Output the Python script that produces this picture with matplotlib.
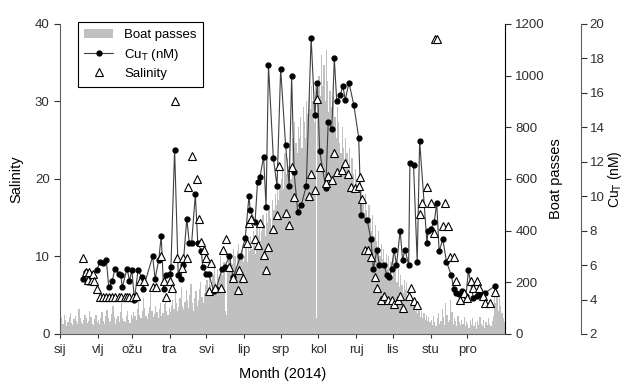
import numpy as np
import matplotlib
matplotlib.use("Agg")
import matplotlib.pyplot as plt
from matplotlib.patches import Patch
from matplotlib.lines import Line2D

plt.rcParams['font.family'] = ['Liberation Sans', 'DejaVu Sans']

# month tick positions (day of year) and Croatian month names
month_days = [0, 31, 59, 90, 120, 151, 181, 212, 243, 273, 304, 334]
month_labels = ['sij', 'vlj', 'ožu', 'tra', 'svi', 'lip', 'srp', 'kol', 'ruj', 'lis', 'stu', 'pro']

# daily boat passes, month by month
boat_jan = [45, 60, 38, 72, 55, 30, 48, 65, 80, 42, 35, 58, 70, 52, 40, 95, 62, 45, 38, 55, 75, 60, 42, 50, 88, 66, 40, 35, 58, 72, 48]
boat_feb = [55, 40, 62, 85, 50, 38, 70, 92, 60, 45, 52, 78, 110, 65, 40, 58, 70, 48, 85, 120, 62, 50, 45, 68, 90, 55, 42, 75]
boat_mar = [60, 85, 70, 55, 95, 130, 75, 62, 88, 140, 100, 70, 58, 80, 105, 160, 90, 65, 78, 110, 85, 60, 95, 120, 70, 80, 115, 150, 90, 75, 100]
boat_apr = [85, 110, 130, 95, 160, 120, 90, 105, 140, 180, 110, 95, 125, 170, 130, 100, 150, 195, 120, 90, 140, 165, 110, 130, 175, 200, 145, 120, 160, 190]
boat_may = [210, 170, 240, 190, 160, 230, 270, 200, 180, 250, 220, 300, 260, 230, 280, 90, 75, 240, 290, 310, 250, 270, 330, 300, 260, 320, 350, 290, 310, 340, 280]
boat_jun = [300, 340, 280, 360, 320, 380, 330, 400, 350, 310, 420, 380, 440, 360, 400, 460, 420, 380, 470, 430, 500, 450, 410, 520, 480, 540, 500, 560, 520, 580]
boat_jul = [600, 640, 560, 700, 620, 680, 650, 720, 600, 760, 690, 820, 740, 700, 800, 760, 840, 720, 880, 820, 760, 900, 850, 930, 870, 960, 900, 820, 980, 60, 940]
boat_aug = [1000, 920, 1080, 960, 1040, 900, 1100, 980, 860, 940, 880, 800, 920, 840, 760, 880, 820, 740, 700, 800, 720, 660, 760, 700, 640, 720, 600, 680, 620, 560, 640]
boat_sep = [600, 540, 620, 500, 560, 520, 470, 540, 480, 430, 500, 450, 400, 460, 380, 420, 360, 330, 400, 300, 350, 290, 330, 270, 310, 250, 300, 230, 280, 220]
boat_oct = [300, 240, 270, 200, 250, 180, 230, 190, 160, 210, 170, 200, 140, 170, 120, 150, 110, 140, 90, 120, 80, 100, 65, 90, 60, 80, 55, 75, 50, 65, 45]
boat_nov = [55, 35, 70, 45, 30, 60, 80, 40, 50, 95, 65, 35, 120, 75, 45, 55, 130, 85, 40, 60, 50, 30, 70, 45, 35, 55, 40, 65, 30, 50]
boat_dec = [40, 25, 55, 35, 60, 30, 45, 20, 50, 35, 65, 40, 30, 55, 25, 45, 35, 60, 40, 30, 50, 70, 150, 120, 170, 90, 140, 110, 80, 60, 45]
boat = (boat_jan + boat_feb + boat_mar + boat_apr + boat_may + boat_jun +
        boat_jul + boat_aug + boat_sep + boat_oct + boat_nov + boat_dec)
boat_day = np.arange(len(boat))

# total dissolved copper (nM)
cu_day = [19, 21, 23, 25, 30, 33, 35, 38, 40, 43, 45, 48, 50, 51, 55, 57, 59, 61, 64, 67, 68,
          76, 78, 81, 83, 85, 87, 90, 91, 94, 97, 99, 101, 104, 106, 108, 111, 113, 116, 117,
          120, 122, 126, 128, 133, 135, 139, 142, 148, 152, 155, 156, 160, 162, 164, 167, 169,
          171, 175, 178, 181, 185, 188, 190, 192, 195, 198, 202, 206, 209, 211, 213, 218, 220,
          223, 225, 227, 230, 232, 234, 237, 241, 245, 247, 252, 255, 257, 260, 262, 266, 268,
          270, 272, 274, 276, 279, 281, 283, 286, 287, 290, 293, 295, 301, 302, 304, 307, 309,
          311, 314, 317, 321, 323, 325, 327, 330, 333, 335, 339, 342, 344, 349, 357]
cu_val = [5.2, 5.6, 5.0, 5.5, 5.7, 6.2, 6.1, 6.3, 4.7, 5.1, 5.8, 5.5, 5.4, 4.7, 5.8, 5.1, 5.7, 4.0, 5.7, 5.3, 4.6,
          6.5, 5.2, 6.3, 7.7, 4.6, 5.4, 5.5, 5.9, 12.7, 5.4, 5.2, 6.0, 8.7, 7.3, 7.3, 10.1, 7.3, 6.8, 5.9,
          5.5, 5.5, 4.5, 4.6, 5.8, 5.9, 6.5, 5.3, 6.5, 7.6, 10.0, 9.2, 8.5, 10.8, 11.1, 12.3, 9.4,
          17.6, 12.2, 10.6, 17.4, 13.0, 10.6, 17.0, 11.4, 9.1, 9.5, 10.6, 19.2, 14.7, 16.6, 12.6, 10.5, 14.3,
          13.9, 18.0, 15.5, 15.9, 16.4, 15.6, 16.6, 15.3, 13.4, 8.9, 8.6, 7.5, 5.8, 6.9, 6.0, 6.0, 5.4,
          5.3, 5.8, 6.9, 6.0, 8.0, 6.3, 6.9, 6.0, 11.9, 11.8, 6.2, 13.2, 7.3, 8.0, 8.1, 8.5, 9.6,
          6.8, 7.5, 6.2, 5.4, 4.6, 4.4, 4.3, 4.5, 4.2, 5.7, 4.1, 4.2, 4.3, 4.4, 4.8]

# salinity
sal_day = [19, 21, 23, 24, 26, 27, 28, 30, 33, 35, 38, 40, 43, 45, 48, 50, 53, 55, 57, 60, 62, 66, 69,
           76, 79, 83, 85, 87, 90, 92, 94, 96, 100, 101, 104, 105, 108, 112, 114, 116, 118, 120,
           122, 124, 127, 132, 134, 136, 139, 142, 146, 147, 150, 153, 155, 157, 160, 162, 164,
           167, 169, 171, 175, 178, 180, 185, 188, 190, 192, 204, 206, 209, 211, 213, 218, 220,
           223, 225, 227, 231, 234, 236, 239, 242, 245, 246, 248, 250, 253, 255, 258, 260, 263,
           266, 269, 272, 274, 277, 279, 281, 286, 288, 290, 293, 295, 297, 301, 304, 307, 308, 309,
           314, 316, 318, 320, 323, 325, 328, 331, 334, 337, 339, 342, 344, 347, 349, 353, 357]
sal_val = [9.8, 8.0, 7.0, 8.0, 7.0, 7.8, 6.9, 5.8, 4.8, 4.8, 4.8, 4.8, 4.8, 4.8, 4.8, 4.8, 4.8, 4.8, 4.8, 4.8, 4.9, 6.9, 6.9,
           6.0, 6.0, 10.0, 6.9, 4.8, 6.9, 5.9, 30.1, 9.8, 8.5, 9.8, 9.8, 19.0, 23.0, 20.0, 14.9, 11.9, 10.9, 9.8,
           5.5, 9.1, 5.9, 5.9, 10.8, 12.3, 8.6, 7.2, 5.7, 8.2, 7.2, 11.7, 14.3, 14.9, 12.3, 11.5, 14.3,
           10.2, 8.3, 11.2, 13.5, 15.4, 21.7, 15.6, 14.1, 21.6, 17.7, 17.8, 20.6, 18.6, 30.3, 21.5, 19.5, 20.4,
           19.9, 23.3, 20.9, 21.1, 22.0, 20.7, 19.0, 18.8, 19.1, 20.3, 17.4, 10.9, 10.9, 9.9, 7.4, 5.9, 4.4,
           4.9, 4.4, 4.4, 3.9, 4.4, 4.9, 3.3, 4.9, 5.9, 4.3, 3.8, 15.5, 16.9, 19.0, 16.9, 13.0, 38.0, 38.0,
           13.9, 16.9, 13.9, 9.9, 9.9, 6.9, 4.4, 5.3, 4.6, 6.9, 5.9, 6.9, 5.9, 4.9, 4.0, 4.0, 5.4]

grey_spine = '#606060'

fig = plt.figure(figsize=(6.27, 3.85), dpi=100)
ax_s = fig.add_axes([0.0957, 0.1325, 0.7097, 0.8052])
ax_b = ax_s.twinx()
ax_c = ax_s.twinx()

ax_b.set_zorder(0)
ax_c.set_zorder(1)
ax_s.set_zorder(2)
ax_s.patch.set_visible(False)
ax_c.patch.set_visible(False)

# boat passes
ax_b.bar(boat_day, boat, width=1.0, align='edge', color='#c0c0c0', linewidth=0)
ax_b.set_ylim(0, 1200)
ax_b.set_yticks(range(0, 1201, 200))
ax_b.set_ylabel('Boat passes', fontsize=10.5, labelpad=3)

# copper
ax_c.plot(cu_day, cu_val, '-', color='#404040', lw=0.8)
ax_c.plot(cu_day, cu_val, 'o', color='black', ms=3.5, lw=0)
ax_c.set_ylim(2, 20)
ax_c.set_yticks(range(2, 21, 2))
ax_c.spines['right'].set_position(('outward', 55))
ax_c.set_ylabel('Cu$_\\mathrm{T}$ (nM)', fontsize=10, labelpad=1)

# salinity
ax_s.plot(sal_day, sal_val, '^', ms=6, mfc='white', mec='black', mew=0.8, lw=0)
ax_s.set_ylim(0, 40)
ax_s.set_yticks([0, 10, 20, 30, 40])
ax_s.set_xlim(0, 365)
ax_s.set_xticks(month_days)
ax_s.set_xticklabels(month_labels)
ax_s.set_ylabel('Salinity', fontsize=10.5, labelpad=8)
ax_s.set_xlabel('Month (2014)', fontsize=10.5, labelpad=8)

for a in (ax_s, ax_b, ax_c):
    for s in a.spines.values():
        s.set_visible(False)
    a.tick_params(direction='out', length=4, width=0.8, labelsize=9.5, colors='#303030')
    a.set_xlim(0, 365)

ax_s.spines['left'].set_visible(True)
ax_s.spines['left'].set_color(grey_spine)
ax_s.spines['bottom'].set_visible(True)
ax_s.spines['bottom'].set_color(grey_spine)
ax_b.spines['right'].set_visible(True)
ax_b.spines['right'].set_color('black')
ax_c.spines['right'].set_visible(True)
ax_c.spines['right'].set_color(grey_spine)
ax_c.tick_params(axis='y', pad=2)
ax_s.tick_params(axis='x', length=3, pad=4)

handles = [Patch(facecolor='#c0c0c0', edgecolor='none'),
           Line2D([], [], color='#404040', lw=0.8, marker='o', mfc='black', mec='black', ms=3.5),
           Line2D([], [], lw=0, marker='^', mfc='white', mec='black', mew=0.8, ms=6)]
leg = ax_s.legend(handles, ['Boat passes', 'Cu$_\\mathrm{T}$ (nM)', 'Salinity'],
                  loc='upper left', bbox_to_anchor=(0.04, 1.005), borderaxespad=0,
                  fontsize=9.5, fancybox=False, framealpha=1, edgecolor='black',
                  handlelength=2.2, labelspacing=0.4, borderpad=0.5)
leg.get_frame().set_linewidth(0.8)

fig.savefig('out.png', dpi=100)
